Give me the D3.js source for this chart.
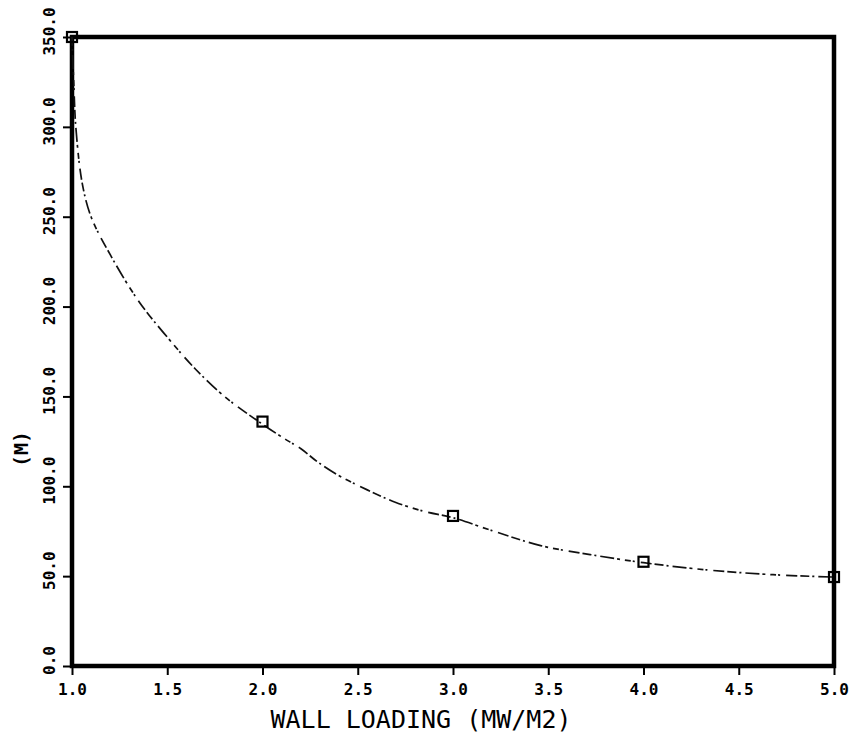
<!DOCTYPE html>
<html>
<head>
<meta charset="utf-8">
<script src="https://cdn.jsdelivr.net/npm/d3@7"></script>
<style>
  html, body { margin: 0; padding: 0; background: #fff; }
  svg { display: block; }
  text { font-family: "DejaVu Sans Mono", "Liberation Mono", monospace; fill: #000; }
</style>
</head>
<body>
<svg id="chart" width="860" height="734"></svg>
<script>
// Computed points (wall loading in MW/m2 vs. size in m)
const wallLoading = [1.0, 2.0, 3.0, 4.0, 5.0];
const sizeM = [350, 136, 83.5, 58, 49.5];

// Fitted curve through the computed points
const curveLoading = [1.00, 1.01, 1.02, 1.053, 1.10, 1.20, 1.35, 1.50, 1.65, 1.80, 1.98,
                      2.10, 2.20, 2.29, 2.40, 2.55, 2.70, 2.85, 3.00, 3.20, 3.46, 3.72, 4.00, 4.33, 4.68, 5.00];
const curveSize    = [350, 322, 300, 269, 250, 229, 203, 183, 165, 150, 136,
                      127.5, 121, 113.5, 106, 98, 91, 86, 82.5, 75.5, 67, 62, 57.5, 53.5, 50.8, 49.5];

// Axis ticks
const xTicks = [1.0, 1.5, 2.0, 2.5, 3.0, 3.5, 4.0, 4.5, 5.0];
const yTicks = [0, 50, 100, 150, 200, 250, 300, 350];

const svg = d3.select("#chart");
const plot = { left: 72, right: 834, top: 37, bottom: 666 };

const x = d3.scaleLinear().domain([1, 5]).range([plot.left, plot.right]);
const y = d3.scaleLinear().domain([0, 350]).range([plot.bottom, plot.top]);
const fmt = d3.format(".1f");

// X axis
const xAxis = svg.append("g")
  .attr("transform", `translate(0,${plot.bottom})`)
  .call(d3.axisBottom(x).tickValues(xTicks).tickFormat(fmt).tickSize(9).tickPadding(9));
xAxis.select(".domain").remove();
xAxis.selectAll(".tick line").attr("stroke", "#000").attr("stroke-width", 2);
xAxis.selectAll(".tick text")
  .style("font-size", "16px").style("font-weight", "bold");

// Y axis with rotated labels
const yAxis = svg.append("g")
  .attr("transform", `translate(${plot.left},0)`)
  .call(d3.axisLeft(y).tickValues(yTicks).tickFormat(fmt).tickSize(9));
yAxis.select(".domain").remove();
yAxis.selectAll(".tick line").attr("stroke", "#000").attr("stroke-width", 2);
yAxis.selectAll(".tick text")
  .attr("transform", "rotate(-90)")
  .attr("text-anchor", "middle")
  .attr("x", 6)
  .attr("y", -17)
  .attr("dy", null)
  .style("font-size", "16px").style("font-weight", "bold");

// Plot frame
svg.append("rect")
  .attr("x", x(1)).attr("y", y(350))
  .attr("width", x(5) - x(1)).attr("height", y(0) - y(350))
  .attr("fill", "none").attr("stroke", "#000").attr("stroke-width", 4.5);

// Curve (broken plotter line)
const pts = curveLoading.map((d, i) => [d, curveSize[i]]);
const line = d3.line().x(d => x(d[0])).y(d => y(d[1])).curve(d3.curveCatmullRom.alpha(0.5));
svg.append("path")
  .attr("d", line(pts))
  .attr("fill", "none")
  .attr("stroke", "#111")
  .attr("stroke-width", 1.7)
  .attr("stroke-dasharray", "9 3 2 4 14 3 3 5 6 2 2 6 11 3");

// Point markers
svg.append("g").selectAll("rect")
  .data(wallLoading.map((d, i) => [d, sizeM[i]]))
  .join("rect")
  .attr("x", d => x(d[0]) - 5)
  .attr("y", d => y(d[1]) - 5)
  .attr("width", 10).attr("height", 10)
  .attr("fill", "none").attr("stroke", "#000").attr("stroke-width", 2.2);

// Axis titles
svg.append("text")
  .attr("x", 421).attr("y", 728)
  .attr("text-anchor", "middle")
  .style("font-size", "25px")
  .text("WALL LOADING (MW/M2)");

svg.append("text")
  .attr("transform", "translate(28,449) rotate(-90)")
  .attr("text-anchor", "middle")
  .style("font-size", "20px").style("font-weight", "bold")
  .text("(M)");
</script>
</body>
</html>
